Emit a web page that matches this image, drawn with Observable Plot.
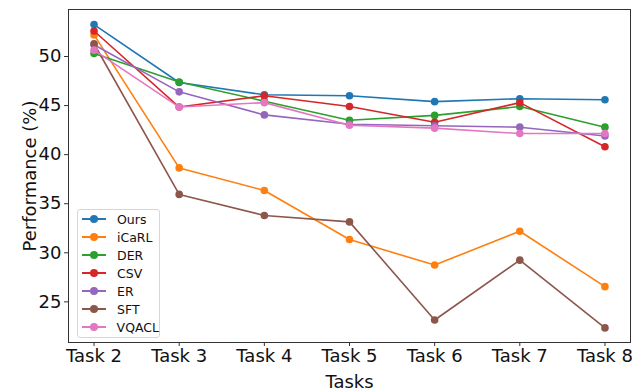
<!DOCTYPE html>
<html>
<head>
<meta charset="utf-8">
<script src="https://cdn.jsdelivr.net/npm/d3@7"></script>
<script src="https://cdn.jsdelivr.net/npm/@observablehq/plot@0.6"></script>
<style>
  html, body { margin: 0; padding: 0; background: #fff; }
  #wrap { position: relative; width: 644px; height: 392px; font-family: "DejaVu Sans", sans-serif; }
  #legend { position: absolute; left: 77px; top: 209px; width: 83px; height: 129px; box-sizing: border-box;
    border: 1px solid #d6d6d6; border-radius: 3px; background: rgba(255,255,255,0.8); padding: 0; }
  .row { height: 18px; display: flex; align-items: center; font-size: 12.5px; color: #111; }
  .sw { position: relative; width: 24px; height: 10px; margin-left: 4px; margin-right: 11px; }
  .sw .ln { position: absolute; left: 0; right: 0; top: 4px; height: 1.6px; }
  .sw .mk { position: absolute; left: 8px; top: 1px; width: 8px; height: 8px; border-radius: 50%; }
</style>
</head>
<body>
<div id="wrap"><div id="chart"></div><div id="legend"></div></div>
<script>
const tasks = ["Task 2", "Task 3", "Task 4", "Task 5", "Task 6", "Task 7", "Task 8"];
const seriesNames = ["Ours", "iCaRL", "DER", "CSV", "ER", "SFT", "VQACL"];
const seriesColors = ["#1f77b4", "#ff7f0e", "#2ca02c", "#d62728", "#9467bd", "#8c564b", "#e377c2"];
const ours  = [53.25, 47.35, 46.1, 46.0, 45.4, 45.7, 45.6];
const icarl = [52.2, 38.65, 36.35, 31.35, 28.75, 32.2, 26.55];
const der   = [50.3, 47.4, 45.45, 43.5, 44.0, 44.9, 42.8];
const csv   = [52.6, 44.85, 46.0, 44.9, 43.3, 45.3, 40.8];
const er    = [51.2, 46.4, 44.05, 43.1, 42.95, 42.8, 41.9];
const sft   = [51.3, 35.95, 33.8, 33.15, 23.15, 29.25, 22.35];
const vqacl = [50.65, 44.85, 45.3, 43.0, 42.7, 42.15, 42.15];
const yTicks = [25, 30, 35, 40, 45, 50];

const values = [ours, icarl, der, csv, er, sft, vqacl];
const data = seriesNames.flatMap((name, s) => values[s].map((v, i) => ({series: name, i, v})));

const seriesMarks = seriesNames.flatMap((name, s) => {
  const d = data.filter(r => r.series === name);
  return [
    Plot.line(d, {x: "i", y: "v", stroke: seriesColors[s], strokeWidth: 1.6}),
    Plot.dot(d, {x: "i", y: "v", fill: seriesColors[s], r: 3.8})
  ];
});

const chart = Plot.plot({
  width: 644,
  height: 392,
  marginLeft: 68,
  marginRight: 14,
  marginTop: 9,
  marginBottom: 50,
  style: {fontFamily: "DejaVu Sans, sans-serif", fontSize: "18px", color: "#111", background: "#fff"},
  x: {domain: [-0.3, 6.3]},
  y: {domain: [20.86, 54.79]},
  marks: [
    Plot.axisX({ticks: d3.range(tasks.length), tickFormat: i => tasks[i], tickSize: 4, tickPadding: 3,
      label: "Tasks", labelAnchor: "center", labelArrow: "none", labelOffset: 45, fontSize: 18, stroke: "#333"}),
    Plot.axisY({ticks: yTicks, tickSize: 4, tickPadding: 3,
      label: "Performance (%)", labelAnchor: "center", labelArrow: "none", labelOffset: 45, fontSize: 18, stroke: "#333"}),
    ...seriesMarks,
    Plot.frame({stroke: "#333", strokeWidth: 1})
  ]
});
document.getElementById("chart").appendChild(chart);

const legend = document.getElementById("legend");
seriesNames.forEach((name, s) => {
  const row = document.createElement("div");
  row.className = "row";
  row.innerHTML = `<div class="sw"><div class="ln" style="background:${seriesColors[s]}"></div><div class="mk" style="background:${seriesColors[s]}"></div></div><span>${name}</span>`;
  legend.appendChild(row);
});
</script>
</body>
</html>
